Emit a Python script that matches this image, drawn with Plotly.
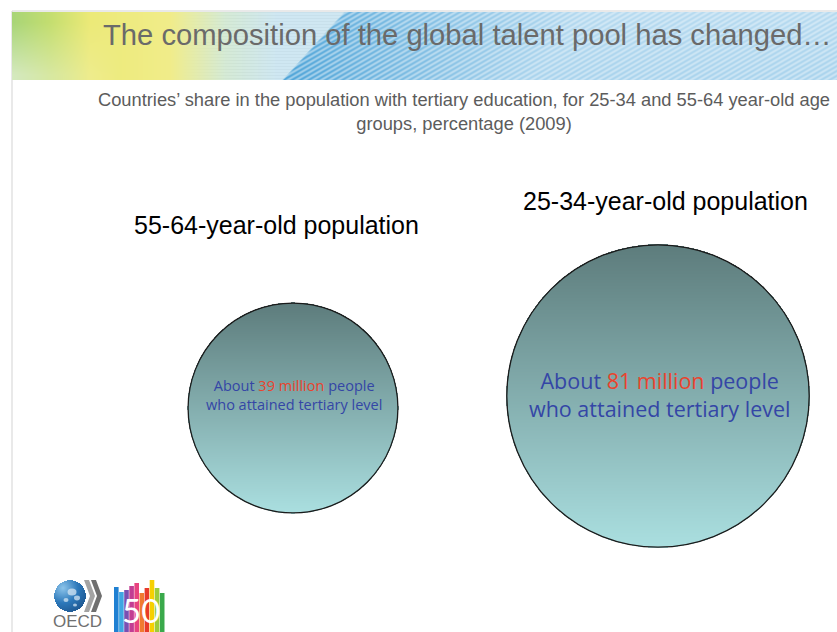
import base64
import struct
import zlib

import numpy as np
import plotly.graph_objects as go

# ---------------------------------------------------------------- data
groups = ["55-64-year-old population", "25-34-year-old population"]
millions = [39, 81]                      # people with tertiary education
title = "The composition of the global talent pool has changed\u2026"
subtitle = ("Countries\u2019 share in the population with tertiary education, "
            "for 25-34 and 55-64 year-old age<br>groups, percentage (2009)")

# ---------------------------------------------------------------- page geometry (pixels)
W, H = 837, 632
centres = [(293, 408), (658, 396)]
label_y = [395, 394]
heading_pos = [(276, 225), (665, 201)]
label_sizes = [14.5, 21.5]
heading_size = 25
SCALE = 16.8                             # radius = SCALE * sqrt(millions)

BLUE_TXT = "#3446a6"
RED_TXT = "#ea432d"
DISC_TOP = "#5d7c7c"
DISC_BOTTOM = "#aadfe0"


def png_data_uri(rgb):
    """Encode an (h, w, 3) uint8 array as a PNG data URI."""
    h, w, _ = rgb.shape
    raw = b"".join(b"\x00" + rgb[i].tobytes() for i in range(h))

    def chunk(tag, data):
        c = struct.pack(">I", len(data)) + tag + data
        return c + struct.pack(">I", zlib.crc32(tag + data) & 0xFFFFFFFF)

    png = (b"\x89PNG\r\n\x1a\n"
           + chunk(b"IHDR", struct.pack(">IIBBBBB", w, h, 8, 2, 0, 0, 0))
           + chunk(b"IDAT", zlib.compress(raw, 9))
           + chunk(b"IEND", b""))
    return "data:image/png;base64," + base64.b64encode(png).decode()


def banner_pixels(x0, y0, x1, y1):
    """Green-yellow wash on the left, striped blue sweep on the right."""
    X, Y = np.meshgrid(np.arange(x0, x1) + 0.5, np.arange(y0, y1) + 0.5)
    sx = [12, 50, 90, 170, 225, 275, 837]
    sc = [(168, 213, 120), (196, 222, 112), (236, 234, 120), (241, 237, 138),
          (214, 235, 214), (208, 232, 242), (205, 230, 242)]
    img = np.stack([np.interp(X, sx, [c[k] for c in sc]) for k in range(3)], -1)

    # pale diagonal sheen in the lower-left corner
    fy = (Y - y0) / (y1 - y0)
    sheen = 0.55 * np.clip(1 - (X - 12) / 110, 0, 1) * np.clip(fy * 1.3 - 0.2, 0, 1)
    img = img * (1 - sheen[..., None]) + 250 * sheen[..., None]

    # fine horizontal hairlines in the pale middle band
    hair = (np.sin(Y * 2.1) > 0.7) * np.clip((X - 180) / 60, 0, 1) * 7
    img = img - hair[..., None]

    # diagonal blue sweep with oblique stripes
    xb = 283 + (y1 - Y) * 0.91
    edge = np.clip((X - xb) / 2.5 + 0.5, 0, 1)
    t = np.clip(1 - (X - xb) / 420, 0.42, 1) * (0.8 + 0.2 * fy)
    stripe = 0.5 + 0.5 * np.sin(2 * np.pi * (0.5 * X + 0.866 * Y) / 4.2)
    a = t * (0.5 + 0.5 * stripe)
    deep = np.array([78, 164, 216])
    light = np.array([236, 246, 252])
    blue = light * (1 - a[..., None]) + deep * a[..., None]
    img = img * (1 - edge[..., None]) + blue * edge[..., None]
    return np.clip(img, 0, 255).astype(np.uint8)


def disc(cx, cy, r, top, bottom):
    """Vertically shaded disc as a masked heatmap."""
    xs = np.arange(int(cx - r - 2), int(cx + r + 3)) + 0.5
    ys = np.arange(int(cy - r - 2), int(cy + r + 3)) + 0.5
    X, Y = np.meshgrid(xs, ys)
    z = np.where((X - cx) ** 2 + (Y - cy) ** 2 <= (r + 0.6) ** 2, Y, np.nan)
    return go.Heatmap(x=xs, y=ys, z=z, zmin=cy - r, zmax=cy + r,
                      colorscale=[[0, top], [1, bottom]], showscale=False,
                      hoverinfo="skip", zsmooth=False)


fig = go.Figure()
shapes, annotations = [], []

# ---------------------------------------------------------------- circles
for (cx, cy), ly, v, fs, name, (hx, hy) in zip(centres, label_y, millions,
                                              label_sizes, groups, heading_pos):
    r = SCALE * np.sqrt(v)
    fig.add_trace(disc(cx, cy, r, DISC_TOP, DISC_BOTTOM))
    shapes.append(dict(type="circle", xref="x", yref="y",
                       x0=cx - r, x1=cx + r, y0=cy - r, y1=cy + r,
                       line=dict(color="#1b1b1b", width=1.3), layer="above"))
    annotations.append(dict(
        x=cx + 1, y=ly, xref="x", yref="y",
        text=(f"About <span style='color:{RED_TXT}'>{v} million</span> people"
              "<br>who attained tertiary level"),
        showarrow=False, xanchor="center", yanchor="middle",
        font=dict(family="Comic Sans MS, Open Sans, sans-serif", size=fs,
                  color=BLUE_TXT)))
    annotations.append(dict(
        x=hx, y=hy, xref="x", yref="y", text=name, showarrow=False,
        xanchor="center", yanchor="middle",
        font=dict(family="Liberation Sans, Arial, sans-serif",
                  size=heading_size, color="#000000")))

# ---------------------------------------------------------------- slide frame and banner
shapes.append(dict(type="rect", xref="x", yref="y", x0=12, x1=845, y0=11, y1=645,
                   line=dict(color="#d3d3d3", width=1), layer="below"))
banner = dict(source=png_data_uri(banner_pixels(12, 12, 837, 80)),
              xref="x", yref="y", x=12, y=12, sizex=825, sizey=68,
              sizing="stretch", xanchor="left", yanchor="top", layer="below")

annotations.append(dict(
    x=467, y=34.5, xref="x", yref="y", text=title, showarrow=False,
    xanchor="center", yanchor="middle",
    font=dict(family="Liberation Sans, Arial, sans-serif", size=29.2,
              color="#6a6a6a")))
annotations.append(dict(
    x=464, y=111, xref="x", yref="y", text=subtitle, showarrow=False,
    xanchor="center", yanchor="middle", align="center",
    font=dict(family="Liberation Sans, Arial, sans-serif", size=18.3,
              color="#5c5c5c")))

# ---------------------------------------------------------------- OECD 50 logo
gx, gy, gr = 69, 595, 15.5
Xg, Yg = np.meshgrid(np.arange(52, 87) + 0.5, np.arange(578, 613) + 0.5)
zg = np.where((Xg - gx) ** 2 + (Yg - gy) ** 2 <= (gr + 0.3) ** 2,
              np.hypot(Xg - (gx - 7), Yg - (gy - 8)), np.nan)
fig.add_trace(go.Heatmap(x=Xg[0], y=Yg[:, 0], z=zg, zmin=0, zmax=30,
                         colorscale=[[0, "#8cc4ea"], [0.5, "#2c78ba"], [1, "#1b4f86"]],
                         showscale=False, hoverinfo="skip", zsmooth="best"))
for bx, by, br in [(72, 592, 4.5), (77, 598, 3), (66, 600, 2.5), (75, 605, 2)]:
    shapes.append(dict(type="circle", xref="x", yref="y", x0=bx - br, x1=bx + br,
                       y0=by - br * 0.8, y1=by + br * 0.8, fillcolor="#d4e6f3",
                       opacity=0.75, line=dict(width=0)))
for off, col in [(0, "#a3a3a3"), (7, "#6f6f6f")]:
    x = 84 + off
    shapes.append(dict(type="path", xref="x", yref="y",
                       path=f"M{x},580 L{x+5},580 L{x+11},596 L{x+5},612 "
                            f"L{x},612 L{x+6},596 Z",
                       fillcolor=col, line=dict(width=0)))
annotations.append(dict(x=77, y=621, xref="x", yref="y", text="OECD",
                        showarrow=False, xanchor="center", yanchor="middle",
                        font=dict(family="Liberation Sans, Arial, sans-serif",
                                  size=17, color="#707070")))

bar_tops = [587, 592, 590, 586, 583, 593, 588, 580, 588, 593]
bar_cols = ["#1f80d2", "#3ea6e2", "#7a4fb2", "#c23d93", "#e8437f",
            "#f07a30", "#e83a2a", "#f6d000", "#9ccc3c", "#3aa94b"]
for i, (top, col) in enumerate(zip(bar_tops, bar_cols)):
    shapes.append(dict(type="rect", xref="x", yref="y", x0=114 + 5.1 * i,
                       x1=114 + 5.1 * i + 4.6, y0=top, y1=640, fillcolor=col,
                       line=dict(width=0)))
annotations.append(dict(x=141, y=610, xref="x", yref="y", text="50",
                        showarrow=False, xanchor="center", yanchor="middle",
                        font=dict(family="Lato, Liberation Sans, sans-serif",
                                  size=33, color="#ffffff")))

fig.update_layout(
    width=W, height=H, margin=dict(l=0, r=0, t=0, b=0),
    paper_bgcolor="#ffffff", plot_bgcolor="#ffffff",
    xaxis=dict(range=[0, W], visible=False, fixedrange=True, domain=[0, 1]),
    yaxis=dict(range=[H, 0], visible=False, fixedrange=True, domain=[0, 1]),
    shapes=shapes, annotations=annotations, images=[banner], showlegend=False,
)

fig.write_html("out.html")
